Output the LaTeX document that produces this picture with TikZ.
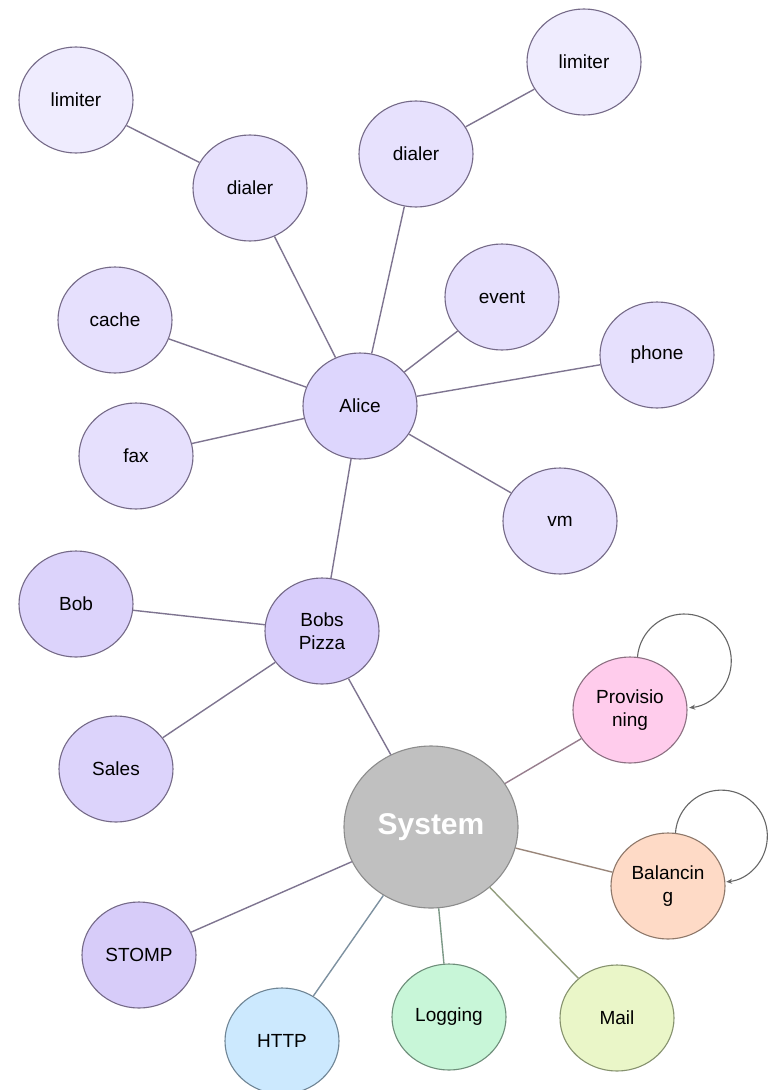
\documentclass[tikz,border=0pt]{standalone}
\usepackage{fontspec}
\setmainfont{Liberation Sans}
\usetikzlibrary{shapes.geometric,arrows.meta}
\definecolor{edgec}{HTML}{7E7490}
\definecolor{bordc}{HTML}{756A88}
\definecolor{limfill}{HTML}{EFECFE}
\definecolor{dialfill}{HTML}{E7E1FD}
\definecolor{leaffill}{HTML}{E6E0FD}
\definecolor{alicefill}{HTML}{DDD6FD}
\definecolor{bobfill}{HTML}{DCD3FB}
\definecolor{pizzafill}{HTML}{D8CDFB}
\definecolor{stompfill}{HTML}{D7CCF9}
\definecolor{sysfill}{HTML}{C0C0C0}
\definecolor{sysbord}{HTML}{8C8C8C}
\definecolor{provfill}{HTML}{FFCCEC}
\definecolor{provbord}{HTML}{8C7082}
\definecolor{balfill}{HTML}{FEDAC6}
\definecolor{balbord}{HTML}{8E786A}
\definecolor{httpfill}{HTML}{CCE9FE}
\definecolor{httpbord}{HTML}{6F8595}
\definecolor{logfill}{HTML}{C8F6D8}
\definecolor{logbord}{HTML}{6E8E7A}
\definecolor{mailfill}{HTML}{EAF6C8}
\definecolor{mailbord}{HTML}{86926E}
\begin{document}
\begin{tikzpicture}[x=1pt,y=-1pt,
  bubble/.style={ellipse,draw=bordc,line width=1.1pt,minimum width=114pt,minimum height=106pt,
    inner sep=0pt,align=center,font=\fontsize{19}{23}\selectfont,text=black},
  link/.style={draw=edgec,line width=1.4pt},
  selfloop/.style={draw=black!60,line width=1.1pt,-{Stealth[length=6pt,width=5pt]}}]
\useasboundingbox (0,0) rectangle (769,1090);

% Alice's branch
\node[bubble,fill=limfill] (limL) at (76,100) {limiter};
\node[bubble,fill=dialfill] (dialL) at (250,188) {dialer};
\node[bubble,fill=limfill] (limR) at (584,62) {limiter};
\node[bubble,fill=dialfill] (dialR) at (416,154) {dialer};
\node[bubble,fill=leaffill] (cache) at (115,320) {cache};
\node[bubble,fill=leaffill] (event) at (502,297) {event};
\node[bubble,fill=leaffill] (phone) at (657,355) {phone};
\node[bubble,fill=alicefill] (alice) at (360,406) {Alice};
\node[bubble,fill=leaffill] (fax) at (136,456) {fax};
\node[bubble,fill=leaffill] (vm) at (560,521) {vm};

% Bobs Pizza branch
\node[bubble,fill=bobfill] (bob) at (76,604) {Bob};
\node[bubble,fill=pizzafill] (pizza) at (322,631) {Bobs\\Pizza};
\node[bubble,fill=bobfill] (sales) at (116,769) {Sales};

% System hub
\node[ellipse,draw=sysbord,line width=1.1pt,fill=sysfill,minimum width=174pt,minimum height=162pt,
  inner sep=0pt,text=white,font=\fontsize{30}{34}\selectfont\bfseries] (sys) at (431,827) {System};
\node[bubble,draw=provbord,fill=provfill] (prov) at (630,710) {Provisio\\ning};
\node[bubble,draw=balbord,fill=balfill] (bal) at (668,886) {Balancin\\g};
\node[bubble,fill=stompfill] (stomp) at (139,955) {STOMP};
\node[bubble,draw=httpbord,fill=httpfill] (http) at (282,1041) {HTTP};
\node[bubble,draw=logbord,fill=logfill] (log) at (449,1017) {Logging};
\node[bubble,draw=mailbord,fill=mailfill] (mail) at (617,1018) {Mail};

% connectors
\path[link] (limL) -- (dialL);
\path[link] (dialL) -- (alice);
\path[link] (limR) -- (dialR);
\path[link] (dialR) -- (alice);
\path[link] (cache) -- (alice);
\path[link] (event) -- (alice);
\path[link] (phone) -- (alice);
\path[link] (fax) -- (alice);
\path[link] (vm) -- (alice);
\path[link] (alice) -- (pizza);
\path[link] (bob) -- (pizza);
\path[link] (sales) -- (pizza);
\path[link] (pizza) -- (sys);
\path[link,draw=provbord!90] (sys) -- (prov);
\path[link,draw=balbord!90] (sys) -- (bal);
\path[link] (sys) -- (stomp);
\path[link,draw=httpbord!90] (sys) -- (http);
\path[link,draw=logbord!90] (sys) -- (log);
\path[link,draw=mailbord!90] (sys) -- (mail);

% self loops
\draw[selfloop] (prov.82) arc[start angle=185,end angle=444,radius=47];
\draw[selfloop] (bal.82) arc[start angle=184,end angle=444,radius=46];
\end{tikzpicture}
\end{document}
